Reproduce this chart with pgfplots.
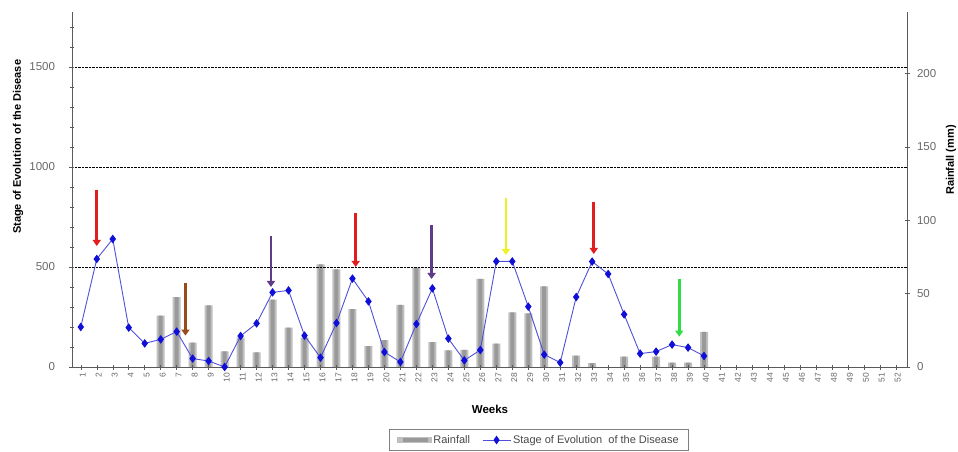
\documentclass[border=0pt]{standalone}
\usepackage{pgfplots}
\pgfplotsset{compat=1.18}
\usepackage{pgfplotstable}
\usepackage{fontspec}
\setmainfont{Liberation Sans}
\usetikzlibrary{arrows.meta}

\definecolor{lineblue}{RGB}{80,80,215}
\definecolor{markblue}{RGB}{15,15,215}
\definecolor{arrred}{RGB}{225,30,30}
\definecolor{arrbrown}{RGB}{150,75,25}
\definecolor{arrpurple}{RGB}{95,60,135}
\definecolor{arryellow}{RGB}{240,240,40}
\definecolor{arrgreen}{RGB}{50,220,70}
\definecolor{ticktext}{RGB}{105,105,105}
\definecolor{axisgray}{RGB}{90,90,90}

\pgfplotstableread{
week stage
1 200
2 540
3 640
4 197
5 118
6 138
7 177
8 42
9 30
10 0
11 155
12 218
13 373
14 383
15 157
16 47
17 220
18 442
19 328
20 75
21 25
22 215
23 393
24 142
25 33
26 85
27 528
28 528
29 302
30 62
31 22
32 350
33 527
34 465
35 263
36 67
37 77
38 112
39 97
40 55
}\stagetable

\pgfplotstableread{
week rain
6 35
7 47.7
8 16.6
9 42
10 10.7
11 20
12 10
13 46
14 26.8
15 20
16 70
17 66.6
18 39.4
19 14.3
20 18.4
21 42.3
22 67.7
23 17
24 11.4
25 11.6
26 60
27 16
28 37.3
29 36.6
30 55
32 7.7
33 2.7
35 7
37 7
38 3
39 3
40 24
}\raintable

\begin{document}
\begin{tikzpicture}
\pgfplotsset{
  common/.style={
    scale only axis, width=835pt, height=355pt,
    at={(0pt,0pt)}, anchor=south west,
    xmin=0.45, xmax=52.7,
    tick align=center,
    major tick length=5pt, minor tick length=4pt,
    every tick/.style={axisgray, line width=0.5pt},
    axis line style={axisgray, line width=0.7pt},
    ticklabel style={text=ticktext},
    /pgf/number format/assume math mode=true,
    /pgf/number format/1000 sep={},
    label style={font=\fontsize{11}{13}\selectfont\bfseries, text=black},
  }
}
% right axis: rainfall bars
\begin{axis}[common,
  axis x line=none, axis y line*=right,
  ymin=0, ymax=242,
  ytick={0,50,100,150,200},
  yticklabel style={font=\fontsize{11.5}{13}\selectfont, xshift=4pt},
  ylabel={Rainfall (mm)},
  ylabel style={at={(axis description cs:1.0527,0.583)}, anchor=center},
]
\addplot[ybar, bar width=8pt, bar shift=0pt, draw=none, fill=gray!50] table[x=week, y=rain] {\raintable};
\addplot[ybar, bar width=4pt, bar shift=0pt, draw=none, fill=gray!80] table[x=week, y=rain] {\raintable};
\end{axis}
% left axis: disease stage
\begin{axis}[common,
  axis y line*=left, axis x line*=bottom,
  ymin=0, ymax=1775,
  ytick={0,500,1000,1500},
  minor ytick={100,200,...,1700},
  ymajorgrids,
  major grid style={black, densely dotted, line width=0.7pt},
  xtick={1,...,52},
  xticklabel style={rotate=90, anchor=east, font=\fontsize{8.5}{9}\selectfont, yshift=-2pt},
  yticklabel style={font=\fontsize{11.5}{13}\selectfont, xshift=-11pt},
  xlabel={Weeks},
  xlabel style={at={(axis description cs:0.5006,-0.118)}, anchor=center, font=\fontsize{11.5}{13}\selectfont\bfseries},
  ylabel={Stage of Evolution of the Disease},
  ylabel style={at={(axis description cs:-0.0647,0.62)}, anchor=center},
  legend style={at={(axis description cs:0.559,-0.1746)}, anchor=north,
    legend columns=2, draw=gray, line width=0.6pt,
    font=\fontsize{11}{13}\selectfont, text=ticktext!70!black,
    /tikz/every even column/.append style={column sep=10pt},
    inner xsep=8pt, inner ysep=4pt},
]
\addlegendimage{legend image code/.code={\fill[gray!50] (0pt,-2.5pt) rectangle (34pt,2.5pt);\fill[gray!80] (6pt,-1.5pt) rectangle (30pt,1.5pt);}}
\addlegendentry{Rainfall}
\addplot[lineblue, line width=0.9pt, mark=diamond*, mark size=3.6pt,
  mark options={fill=markblue, draw=markblue, solid},
  legend image code/.code={\draw[lineblue, line width=0.9pt] (0pt,0pt) -- (28pt,0pt);
    \fill[markblue] (14pt,3.6pt) -- (16.5pt,0pt) -- (14pt,-3.6pt) -- (11.5pt,0pt) -- cycle;}]
  table[x=week, y=stage] {\stagetable};
\addlegendentry{Stage of Evolution\ \ of the Disease}
% arrows
\begin{scope}[line width=2.6pt]
\draw[arrred, -{Triangle[width=8pt,length=6pt]}] (axis cs:2,885) -- (axis cs:2,605);
\draw[arrbrown, -{Triangle[width=8pt,length=6pt]}] (axis cs:7.55,420) -- (axis cs:7.55,157);
\draw[arrpurple, -{Triangle[width=8pt,length=6pt]}] (axis cs:12.9,655) -- (axis cs:12.9,400);
\draw[arrred, -{Triangle[width=8pt,length=6pt]}] (axis cs:18.2,770) -- (axis cs:18.2,500);
\draw[arrpurple, -{Triangle[width=8pt,length=6pt]}] (axis cs:22.95,710) -- (axis cs:22.95,440);
\draw[arryellow, -{Triangle[width=8pt,length=6pt]}] (axis cs:27.6,845) -- (axis cs:27.6,560);
\draw[arrred, -{Triangle[width=8pt,length=6pt]}] (axis cs:33.1,827) -- (axis cs:33.1,565);
\draw[arrgreen, -{Triangle[width=8pt,length=6pt]}] (axis cs:38.45,440) -- (axis cs:38.45,152);
\end{scope}
\end{axis}
\pgfresetboundingbox
\path[use as bounding box] (-72pt,-85pt) rectangle (886pt,367pt);
\end{tikzpicture}
\end{document}
